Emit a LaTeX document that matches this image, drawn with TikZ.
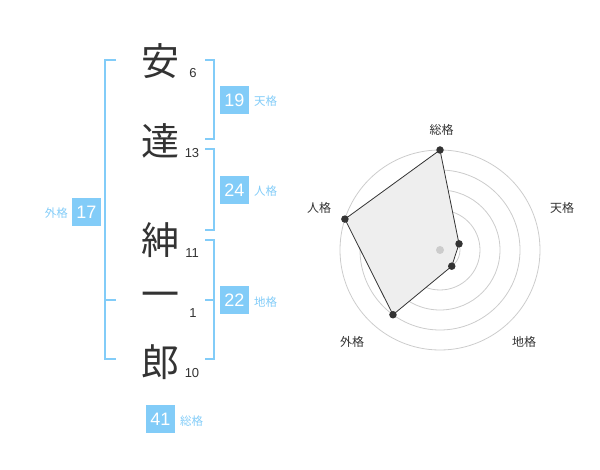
\documentclass[tikz,border=0pt]{standalone}
\usepackage{fontspec}
\usetikzlibrary{calc}
\setmainfont{Liberation Sans}
\newfontfamily\jp{Noto Sans CJK JP}
\definecolor{sky}{RGB}{130,204,248}
\definecolor{ink}{RGB}{51,51,51}
\definecolor{ring}{RGB}{204,204,204}
\definecolor{area}{RGB}{238,238,238}
\tikzset{
  kanji/.style={font=\jp\fontsize{38}{40}\selectfont, text=ink, inner sep=0pt},
  strokes/.style={font=\fontsize{13}{14}\selectfont, text=ink, inner sep=0pt},
  numbox/.style={fill=sky, text=white, font=\fontsize{18}{18}\selectfont, minimum width=29, minimum height=28, inner sep=0pt},
  kaku/.style={font=\jp\fontsize{11.5}{12}\selectfont, text=sky, inner sep=0pt, anchor=west},
  bracket/.style={draw=sky, line width=1.8},
  rlabel/.style={font=\jp\fontsize{12}{13}\selectfont, text=ink, inner sep=0pt},
  ringline/.style={draw=ring, line width=0.8},
  dot/.style={circle, fill=ink, inner sep=0pt, minimum size=7.5}
}
\begin{document}
\begin{tikzpicture}[x=1pt,y=-1pt]
\useasboundingbox (0,0) rectangle (600,470);
% characters
\node[kanji] (c1) at (160,61) {安};
\node[kanji] (c2) at (160,141) {達};
\node[kanji] (c3) at (160,240) {紳};
\node[kanji] (c4) at (160,300) {一};
\node[kanji] (c5) at (160,362) {郎};
% stroke counts
\node[strokes] (s1) at (193,73) {6};
\node[strokes] (s2) at (192,153) {13};
\node[strokes] (s3) at (192,253) {11};
\node[strokes] (s4) at (193,313) {1};
\node[strokes] (s5) at (192,373) {10};
% left bracket (gaikaku)
\draw[bracket] (116,60) -- (105,60) -- (105,359) -- (116,359);
\draw[bracket] (105,300) -- (116,300);
% right brackets
\draw[bracket] (205,60) -- (214,60) -- (214,139) -- (205,139);
\draw[bracket] (205,149) -- (214,149) -- (214,230) -- (205,230);
\draw[bracket] (205,240) -- (214,240) -- (214,359) -- (205,359);
\draw[bracket] (214,300) -- (205,300);
% boxes
\node[numbox] (ten) at (234.5,100) {19};
\node[kaku] (tenl) at (254,101) {天格};
\node[numbox] (jin) at (234.5,190) {24};
\node[kaku] (jinl) at (254,191) {人格};
\node[numbox] (chi) at (234.5,300.5) {22};
\node[kaku] (chil) at (254,302) {地格};
\node[numbox] (gai) at (86.5,212) {17};
\node[kaku, anchor=east] (gail) at (68,213) {外格};
\node[numbox] (sou) at (160.5,419) {41};
\node[kaku] (soul) at (180,421) {総格};
% radar
\coordinate (O) at (440,250);
\foreach \r in {20,40,60,80,100} \draw[ringline] (O) circle[radius=\r];
\coordinate (pS) at ($(O)+(-90:100)$);
\coordinate (pT) at ($(O)+(-18:20)$);
\coordinate (pC) at ($(O)+(54:20)$);
\coordinate (pG) at ($(O)+(126:80)$);
\coordinate (pJ) at ($(O)+(-162:100)$);
\draw[fill=area, draw=ink, line width=0.8] (pS) -- (pT) -- (pC) -- (pG) -- (pJ) -- cycle;
\node[circle, fill=ring, inner sep=0pt, minimum size=8] (ctr) at (O) {};
\foreach \p in {pS,pT,pC,pG,pJ} \node[dot] at (\p) {};
\node[rlabel] (lS) at (441.5,130) {総格};
\node[rlabel] (lT) at (562,208) {天格};
\node[rlabel] (lJ) at (319,208) {人格};
\node[rlabel] (lG) at (352,342) {外格};
\node[rlabel] (lC) at (524,342) {地格};
\end{tikzpicture}
\end{document}
